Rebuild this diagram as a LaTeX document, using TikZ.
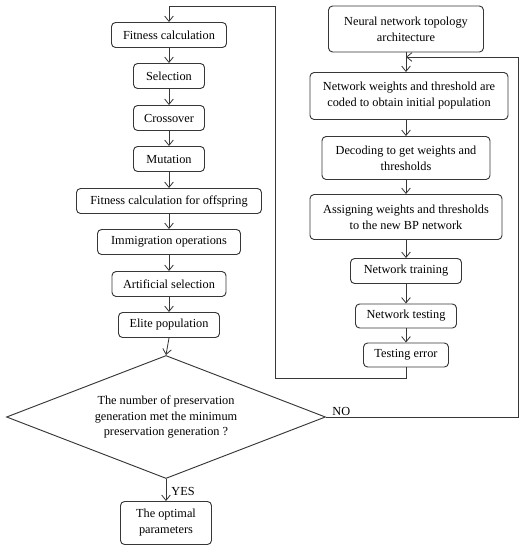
\documentclass[tikz,border=0pt]{standalone}
\usepackage{fontspec}
\setmainfont{Liberation Serif}
\usepackage{xcolor}
\usetikzlibrary{positioning, arrows.meta, shapes.geometric}
\definecolor{BoxLine}{RGB}{55,55,55}
\tikzset{
  gbox/.style={draw=BoxLine, line width=0.8pt, fill=white, rounded corners=3.5pt,
    minimum height=0.75cm, inner sep=2pt, align=center, font=\fontsize{10.5}{13.6}\selectfont},
  tallbox/.style={gbox, minimum height=1.35cm},
  decide/.style={diamond, aspect=2.59, draw=BoxLine, line width=0.8pt, minimum width=9.57cm, minimum height=3.69cm,
    inner sep=0pt, align=center, font=\fontsize{10.5}{13.6}\selectfont},
  arr/.style={-{Straight Barb[length=1.6mm,width=2.6mm]}, line width=0.7pt, BoxLine},
  lbl/.style={font=\fontsize{10.5}{12}\selectfont, inner sep=1pt},
}

\begin{document}
\begin{tikzpicture}[x=0.03cm, y=-0.03cm]
  \useasboundingbox (0,0) rectangle (530,550);
  % GA loop
  \node[gbox, minimum width=3.45cm] (fit) at (169,35) {Fitness calculation};
  \node[gbox, minimum width=2.13cm] (sel) at (169,76) {Selection};
  \node[gbox, minimum width=2.13cm] (cro) at (169,118) {Crossover};
  \node[gbox, minimum width=2.13cm] (mut) at (169,159) {Mutation};
  \node[gbox, minimum width=5.55cm] (off) at (169,201) {Fitness calculation for offspring};
  \node[gbox, minimum width=4.29cm] (imm) at (169,242) {Immigration operations};
  \node[gbox, minimum width=3.42cm] (art) at (169,284) {Artificial selection};
  \node[gbox, minimum width=3.03cm] (eli) at (169,325) {Elite population};
  \node[decide] (dia) at (166,417) {The number of preservation\\generation met the minimum\\preservation generation\hspace{0.25em}?};
  \node[tallbox, minimum width=2.73cm, minimum height=1.29cm] (opt) at (166,523) {The optimal\\parameters};
  % BP network
  \node[tallbox, minimum width=4.65cm, minimum height=1.38cm] (topo) at (406,29) {Neural network topology\\architecture};
  \node[tallbox, minimum width=5.94cm, minimum height=1.41cm] (code) at (409,96) {Network weights and threshold are\\coded to obtain initial population};
  \node[tallbox, minimum width=5.04cm, minimum height=1.29cm] (dec) at (406,158) {Decoding to get weights and\\thresholds};
  \node[tallbox, minimum width=5.76cm] (asg) at (406,217) {Assigning weights and thresholds\\to the new BP network};
  \node[gbox, minimum width=3.33cm] (trn) at (406,271) {Network training};
  \node[gbox, minimum width=3.03cm, minimum height=0.72cm] (tst) at (406,316) {Network testing};
  \node[gbox, minimum width=2.55cm, minimum height=0.72cm] (err) at (406,355) {Testing error};

  \coordinate (j) at (406,57);
  \coordinate (nr) at (518,417);
  \coordinate (bl) at (275,378);
  \coordinate (tl) at (275,6);

  \foreach \a/\b in {fit/sel, sel/cro, cro/mut, mut/off, off/imm, imm/art, art/eli, eli/dia, dia/opt,
                     dec/asg, asg/trn, trn/tst, tst/err}
    \draw[arr] (\a.south) -- (\b.north);
  \draw[arr] (topo.south) -- (topo.south |- code.north);
  \draw[arr] (code.south -| topo.south) -- (dec.north);

  \draw[arr] (err.south) |- (bl) -- (tl) -| (fit.north);
  \draw[arr] (dia.east) -- (nr) |- (j);

  \node[lbl, anchor=south west] (no) at ([xshift=0.15cm]dia.east) {NO};
  \node[lbl, anchor=west] (yes) at ([xshift=0.12cm, yshift=-0.38cm]dia.south) {YES};
\end{tikzpicture}
\end{document}
